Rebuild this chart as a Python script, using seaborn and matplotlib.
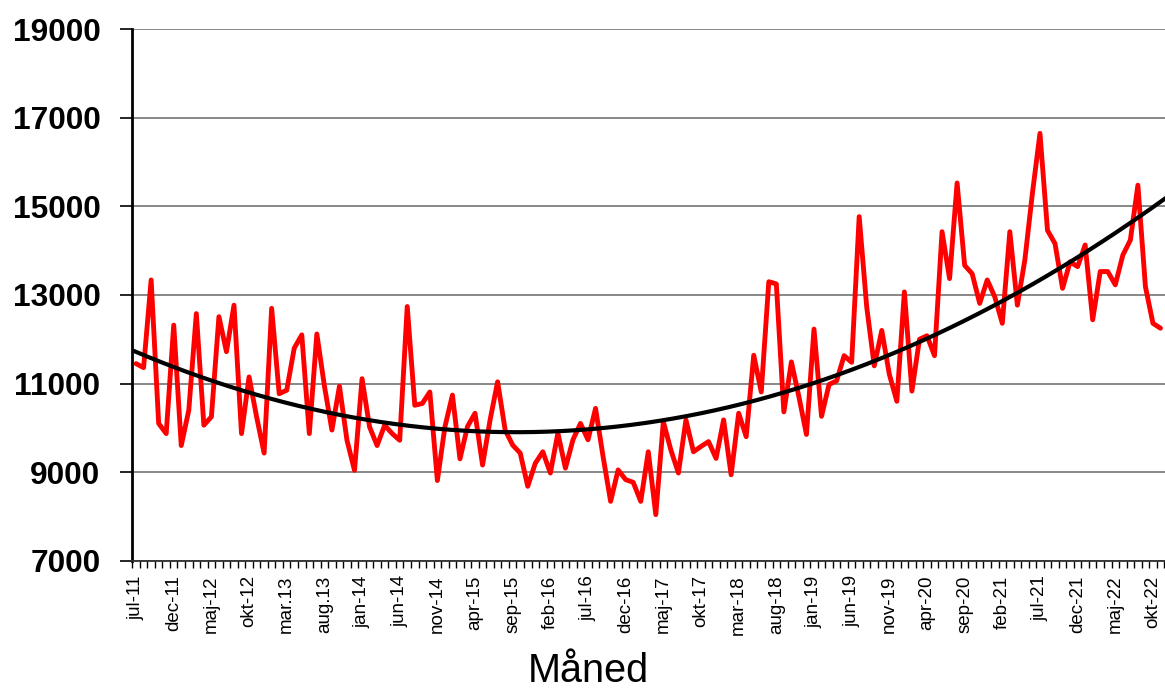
import numpy as np
import pandas as pd
import matplotlib
matplotlib.use("Agg")
import matplotlib.pyplot as plt
import seaborn as sns
from matplotlib.ticker import FixedLocator, NullFormatter

# Monthly values, jul-11 .. nov-22
values = [
    11450, 11360, 13340, 10100, 9870, 12320, 9600, 10400, 12580, 10060,
    10250, 12510, 11720, 12770, 9870, 11150, 10250, 9430, 12700, 10770,
    10850, 11800, 12100, 9870, 12120, 10950, 9950, 10940, 9720, 9040,
    11110, 10020, 9600, 10060, 9870, 9720, 12740, 10510, 10550, 10810,
    8810, 10020, 10740, 9300, 10030, 10330, 9160, 10180, 11040, 9950,
    9610, 9430, 8680, 9200, 9460, 8980, 9880, 9090, 9730, 10100,
    9730, 10440, 9350, 8340, 9050, 8830, 8770, 8340, 9460, 8040,
    10140, 9500, 8980, 10180, 9460, 9580, 9690, 9310, 10180, 8940,
    10330, 9800, 11640, 10810, 13300, 13250, 10360, 11490, 10700, 9850,
    12230, 10260, 10980, 11060, 11630, 11480, 14770, 12730, 11400, 12200,
    11210, 10600, 13070, 10830, 12000, 12080, 11630, 14430, 13370, 15530,
    13670, 13480, 12810, 13340, 12960, 12360, 14430, 12770, 13800, 15300,
    16650, 14460, 14160, 13150, 13750, 13640, 14130, 12440, 13530, 13530,
    13230, 13900, 14240, 15480, 13190, 12360, 12250,
]

tick_labels = [
    "jul-11", "dec-11", "maj-12", "okt-12", "mar.13", "aug.13", "jan-14",
    "jun-14", "nov-14", "apr-15", "sep-15", "feb-16", "jul-16", "dec-16",
    "maj-17", "okt-17", "mar-18", "aug-18", "jan-19", "jun-19", "nov-19",
    "apr-20", "sep-20", "feb-21", "jul-21", "dec-21", "maj-22", "okt-22",
]
y_ticks = [7000, 9000, 11000, 13000, 15000, 17000, 19000]

month_idx = np.arange(len(values))
df = pd.DataFrame({"month": month_idx, "value": values})

# Polynomial (order 2) trendline, as in the original spreadsheet chart
coef = np.polyfit(df["month"], df["value"], 2)
trend_x = np.linspace(-0.5, 137, 300)
trend_df = pd.DataFrame({"month": trend_x, "trend": np.polyval(coef, trend_x)})

sns.set_style("white")
plt.rcParams["font.family"] = ["Liberation Sans", "DejaVu Sans"]
plt.rcParams["text.color"] = "black"
plt.rcParams["xtick.color"] = "black"
plt.rcParams["ytick.color"] = "black"
plt.rcParams["axes.labelcolor"] = "black"

fig = plt.figure(figsize=(11.65, 6.91), dpi=100)
ax = fig.add_axes([132.3 / 1165, 1 - 560.7 / 691, 1 - 132.3 / 1165, (560.7 - 29.3) / 691])

sns.lineplot(data=df, x="month", y="value", color="#FF0000", linewidth=3.5,
             ax=ax, solid_joinstyle="round", solid_capstyle="round", zorder=3)
sns.lineplot(data=trend_df, x="month", y="trend", color="black", linewidth=3.0,
             ax=ax, zorder=4)

ax.set_xlim(-0.5, 136.6)
ax.set_ylim(7000, 19000)

ax.set_yticks(y_ticks)
ax.set_yticklabels([str(v) for v in y_ticks], fontsize=22.8, fontweight="bold")
ax.yaxis.grid(True, color="#7f7f7f", linewidth=1.3)
ax.set_axisbelow(True)
ax.tick_params(axis="y", which="major", length=8.6, width=1.2, color="black",
               pad=14.4, direction="out", left=True)

label_pos = np.arange(0, len(values), 5)[:len(tick_labels)]
ax.xaxis.set_major_locator(FixedLocator(label_pos))
ax.set_xticklabels(tick_labels, rotation=90, fontsize=13.5, va="top", ha="center")
ax.xaxis.set_minor_locator(FixedLocator(np.arange(-0.5, 137, 1.0)))
ax.xaxis.set_minor_formatter(NullFormatter())
ax.tick_params(axis="x", which="major", length=0, pad=10.5, bottom=True)
ax.tick_params(axis="x", which="minor", length=5, width=1.0, color="black",
               direction="out", bottom=True)

for s in ["top", "right"]:
    ax.spines[s].set_visible(False)
ax.spines["left"].set_color("black")
ax.spines["left"].set_linewidth(2.0)
ax.spines["bottom"].set_color("#303030")
ax.spines["bottom"].set_linewidth(1.3)

ax.set_ylabel("")
ax.set_xlabel("Måned", fontsize=28.5)
ax.xaxis.set_label_coords((588 - 132.3) / (1165 - 132.3), -(689.5 - 560.7) / (560.7 - 29.3))
ax.xaxis.label.set_va("bottom")

fig.savefig("out.png", dpi=100)
